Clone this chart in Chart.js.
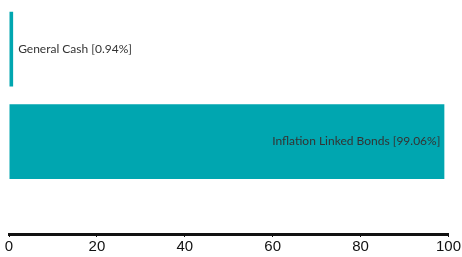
<!DOCTYPE html>
<html>
<head>
<meta charset="utf-8">
<script src="https://cdn.jsdelivr.net/npm/chart.js@4/dist/chart.umd.min.js"></script>
<style>
  html, body { margin: 0; padding: 0; background: #fff; }
  #wrap { width: 462px; height: 257px; }
</style>
</head>
<body>
<div id="wrap"><canvas id="allocChart"></canvas></div>
<script>
const categories = ['General Cash', 'Inflation Linked Bonds'];
const weights = [0.94, 99.06];
const xTicks = [0, 20, 40, 60, 80, 100];

// label each bar with its name and share, inside the bar if it is wide enough
const barLabels = {
    id: 'barLabels',
    afterDatasetsDraw(chart) {
        const ctx = chart.ctx;
        const meta = chart.getDatasetMeta(0);
        ctx.save();
        ctx.font = '12px Lato';
        ctx.fillStyle = '#333';
        ctx.textBaseline = 'middle';
        meta.data.forEach((bar, i) => {
            const text = categories[i] + ' [' + weights[i].toFixed(2) + '%]';
            const w = ctx.measureText(text).width;
            if (bar.x - bar.base > w + 10) {
                ctx.textAlign = 'right';
                ctx.fillText(text, bar.x - 4, bar.y);
            } else {
                ctx.textAlign = 'left';
                ctx.fillText(text, bar.x + 5, bar.y);
            }
        });
        ctx.restore();
    }
};

new Chart(document.getElementById('allocChart'), {
    type: 'bar',
    data: {
        datasets: [{
            data: weights.map((v, i) => ({ x: v, y: i })),
            backgroundColor: '#00a6b0',
            borderWidth: 0,
            barPercentage: 0.9,
            categoryPercentage: 0.9
        }]
    },
    options: {
        indexAxis: 'y',
        responsive: true,
        maintainAspectRatio: false,
        animation: false,
        layout: { padding: { top: 3, left: 9, right: 3, bottom: 0 } },
        plugins: { legend: { display: false }, tooltip: { enabled: false } },
        scales: {
            y: {
                type: 'linear',
                reverse: true,
                offset: false,
                min: -0.5,
                max: 2,
                display: false,
                afterBuildTicks: axis => { axis.ticks = categories.map((c, i) => ({ value: i })); }
            },
            x: {
                min: 0,
                max: 100,
                afterBuildTicks: axis => { axis.ticks = xTicks.map(v => ({ value: v })); },
                border: { display: true, color: '#111', width: 3 },
                grid: { drawOnChartArea: false, drawTicks: true, tickLength: 3, color: '#111', lineWidth: 1 },
                ticks: {
                    color: '#111',
                    padding: 1,
                    font: { family: 'Liberation Sans', size: 15 }
                }
            }
        }
    },
    plugins: [barLabels]
});
</script>
</body>
</html>
